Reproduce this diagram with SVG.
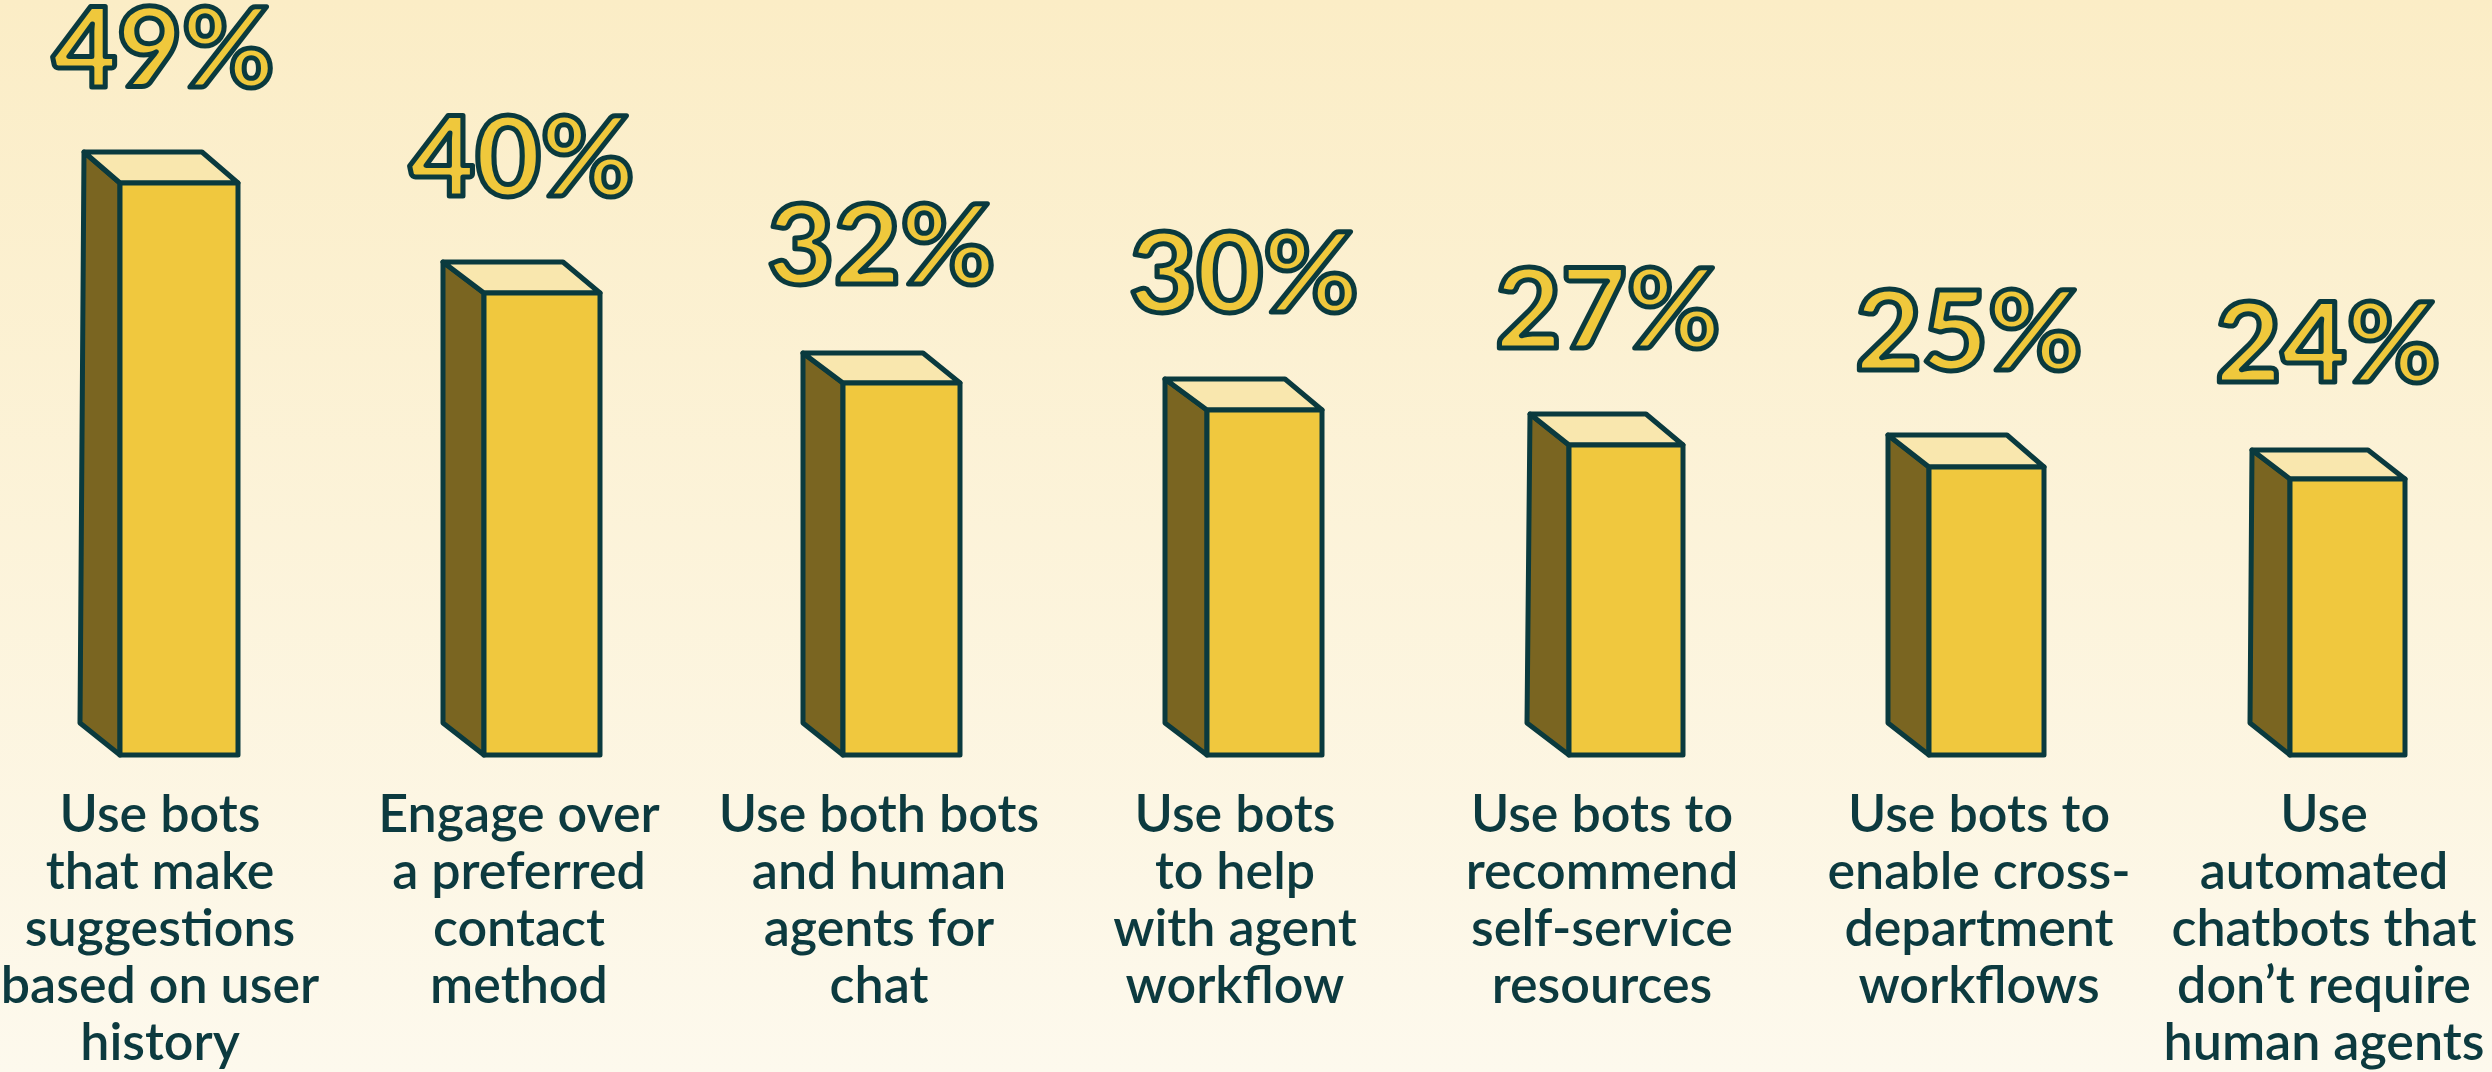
<svg xmlns="http://www.w3.org/2000/svg" width="2492" height="1072" viewBox="0 0 2492 1072">
<defs>
<linearGradient id="bg" x1="0" y1="0" x2="0" y2="1">
<stop offset="0" stop-color="#fbedc6"/>
<stop offset="1" stop-color="#fdf9ed"/>
</linearGradient>
<style>
.side{fill:#7a6521;stroke:#0a3a3e;stroke-width:5;stroke-linejoin:round}
.top{fill:#f9e7ae;stroke:#0a3a3e;stroke-width:5;stroke-linejoin:round}
.front{fill:#f0c83e;stroke:#0a3a3e;stroke-width:5;stroke-linejoin:round}
.pct{font-family:Lato,"Liberation Sans",sans-serif;font-weight:900;font-size:110px;fill:#efc83c;stroke:#0a3a3e;stroke-width:5;stroke-linejoin:round;text-anchor:middle}
.lbl{font-family:Lato,"Liberation Sans",sans-serif;font-weight:600;font-size:52px;fill:#0c3a3f;text-anchor:middle}
</style>
</defs>
<rect x="0" y="0" width="2492" height="1072" fill="url(#bg)"/>

<g id="bar1">
<polygon class="side" points="84,152 120,183 120,755 80,723"/>
<polygon class="top" points="84,152 202,152 238,183 120,183"/>
<rect class="front" x="120" y="183" width="118" height="572"/>
<text class="pct" x="163.5" y="87" textLength="222" lengthAdjust="spacingAndGlyphs">49%</text>
<text class="lbl" x="160" y="832">Use bots</text>
<text class="lbl" x="160" y="889">that make</text>
<text class="lbl" x="160" y="946">suggestions</text>
<text class="lbl" x="160" y="1003">based on user</text>
<text class="lbl" x="160" y="1060">history</text>
</g>

<g id="bar2">
<polygon class="side" points="443,262 484,293 484,755 443,723"/>
<polygon class="top" points="443,262 563,262 600,293 484,293"/>
<rect class="front" x="484" y="293" width="116" height="462"/>
<text class="pct" x="522" y="195.5" textLength="225" lengthAdjust="spacingAndGlyphs">40%</text>
<text class="lbl" x="519" y="832">Engage over</text>
<text class="lbl" x="519" y="889">a preferred</text>
<text class="lbl" x="519" y="946">contact</text>
<text class="lbl" x="519" y="1003">method</text>
</g>

<g id="bar3">
<polygon class="side" points="803,353 843,383 843,755 803,723"/>
<polygon class="top" points="803,353 923,353 960,383 843,383"/>
<rect class="front" x="843" y="383" width="117" height="372"/>
<text class="pct" x="881.5" y="284" textLength="228" lengthAdjust="spacingAndGlyphs">32%</text>
<text class="lbl" x="879" y="832">Use both bots</text>
<text class="lbl" x="879" y="889">and human</text>
<text class="lbl" x="879" y="946">agents for</text>
<text class="lbl" x="879" y="1003">chat</text>
</g>

<g id="bar4">
<polygon class="side" points="1165,379 1207,410 1207,755 1165,723"/>
<polygon class="top" points="1165,379 1285,379 1322,410 1207,410"/>
<rect class="front" x="1207" y="410" width="115" height="345"/>
<text class="pct" x="1244" y="312" textLength="229" lengthAdjust="spacingAndGlyphs">30%</text>
<text class="lbl" x="1235" y="832">Use bots</text>
<text class="lbl" x="1235" y="889">to help</text>
<text class="lbl" x="1235" y="946">with agent</text>
<text class="lbl" x="1235" y="1003">workflow</text>
</g>

<g id="bar5">
<polygon class="side" points="1530,414 1569,445 1569,755 1527,723"/>
<polygon class="top" points="1530,414 1646,414 1683,445 1569,445"/>
<rect class="front" x="1569" y="445" width="114" height="310"/>
<text class="pct" x="1608" y="347.5" textLength="225" lengthAdjust="spacingAndGlyphs">27%</text>
<text class="lbl" x="1602" y="832">Use bots to</text>
<text class="lbl" x="1602" y="889">recommend</text>
<text class="lbl" x="1602" y="946">self-service</text>
<text class="lbl" x="1602" y="1003">resources</text>
</g>

<g id="bar6">
<polygon class="side" points="1888,435 1929,467 1929,755 1888,723"/>
<polygon class="top" points="1888,435 2007,435 2044,467 1929,467"/>
<rect class="front" x="1929" y="467" width="115" height="288"/>
<text class="pct" x="1969" y="370" textLength="227" lengthAdjust="spacingAndGlyphs">25%</text>
<text class="lbl" x="1979" y="832">Use bots to</text>
<text class="lbl" x="1979" y="889">enable cross-</text>
<text class="lbl" x="1979" y="946">department</text>
<text class="lbl" x="1979" y="1003">workflows</text>
</g>

<g id="bar7">
<polygon class="side" points="2252,450 2290,479 2290,755 2250,723"/>
<polygon class="top" points="2252,450 2368,450 2405,479 2290,479"/>
<rect class="front" x="2290" y="479" width="115" height="276"/>
<text class="pct" x="2328" y="381.5" textLength="225" lengthAdjust="spacingAndGlyphs">24%</text>
<text class="lbl" x="2324" y="832">Use</text>
<text class="lbl" x="2324" y="889">automated</text>
<text class="lbl" x="2324" y="946">chatbots that</text>
<text class="lbl" x="2324" y="1003">don’t require</text>
<text class="lbl" x="2324" y="1060">human agents</text>
</g>

<g id="connectors"></g>
</svg>
